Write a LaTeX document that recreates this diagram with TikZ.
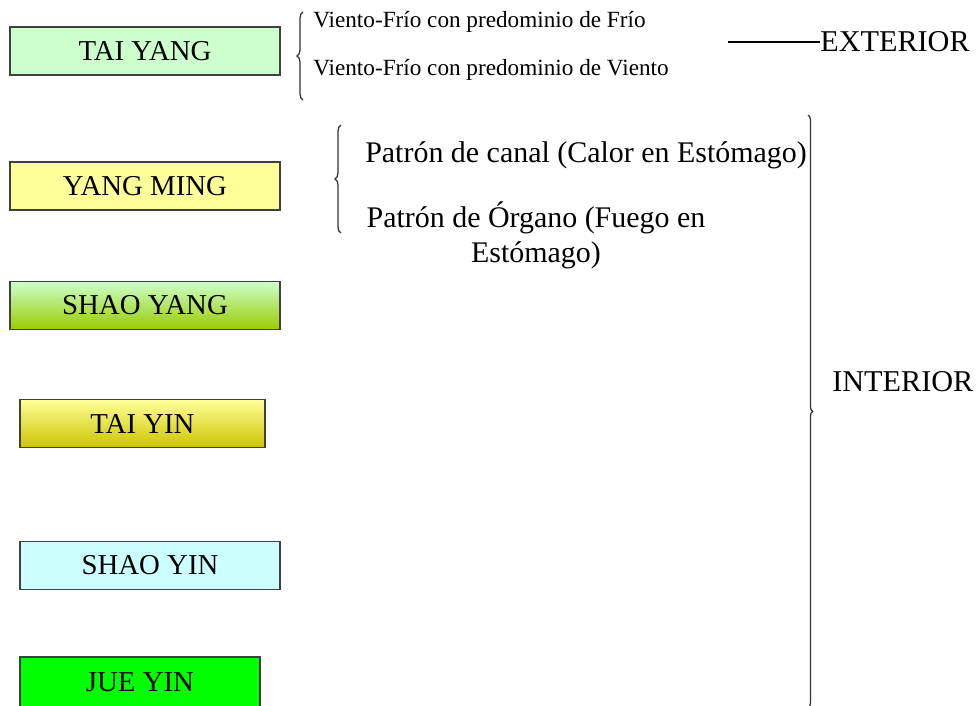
\documentclass[tikz,border=0pt]{standalone}
\usepackage{fontspec}
\setmainfont{Liberation Serif}
\usetikzlibrary{positioning, decorations.pathreplacing}
\definecolor{paleGreen}{RGB}{204,255,204}
\definecolor{paleYellow}{RGB}{255,255,153}
\definecolor{limeGreen}{RGB}{153,204,0}
\definecolor{darkGold}{RGB}{204,196,0}
\definecolor{paleCyan}{RGB}{204,255,255}
\definecolor{brightGreen}{RGB}{0,255,0}
\tikzset{
  lvl/.style={rectangle, draw=black!75, line width=0.9pt,
    minimum width=6.75cm, minimum height=1.2cm, inner sep=0pt,
    font=\fontsize{20.5}{24}\selectfont},
  lvlG/.style={lvl, fill=paleGreen},
  lvlY/.style={lvl, fill=paleYellow},
  lvlSY/.style={lvl, top color=paleGreen, bottom color=limeGreen},
  lvlTY/.style={lvl, top color=paleYellow, bottom color=darkGold,
    minimum width=6.125cm},
  lvlC/.style={lvl, fill=paleCyan, minimum width=6.5cm},
  lvlJ/.style={lvl, fill=brightGreen, minimum width=6cm,
    minimum height=1.25cm},
  note/.style={anchor=west, inner sep=0pt, font=\fontsize{16.5}{19}\selectfont},
  pat/.style={inner sep=0pt, font=\fontsize{21.3}{24.8}\selectfont},
  zone/.style={anchor=west, inner sep=0pt, font=\fontsize{21.5}{25}\selectfont},
  brc/.style={decorate, decoration={brace, amplitude=#1}, line width=0.9pt,
    draw=black!80},
}
\begin{document}
\begin{tikzpicture}
  \useasboundingbox (0,0) rectangle (24.4,-17.65);

  % the six levels
  \node[lvlG]  (taiyang)  at (3.625,-1.275)  {TAI YANG};
  \node[lvlY]  (yangming) at (3.625,-4.65)   {YANG MING};
  \node[lvlSY] (shaoyang) at (3.625,-7.6375) {SHAO YANG};
  \node[lvlTY] (taiyin)   at (3.5625,-10.5875) {TAI YIN};
  \node[lvlC]  (shaoyin)  at (3.75,-14.1375) {SHAO YIN};
  \node[lvlJ]  (jueyin)   at (3.5,-17.05)    {JUE YIN};

  % Tai Yang patterns
  \node[note] (frio)   at (7.825,-0.55) {Viento-Frío con predominio de Frío};
  \node[note] (viento) at (7.825,-1.75) {Viento-Frío con predominio de Viento};
  \draw[brc=0.15cm] (7.575,-2.5) -- (7.575,-0.3);

  % Yang Ming patterns
  \node[pat, anchor=west] (canal) at (9.125,-3.875)
       {Patrón de canal (Calor en Estómago)};
  \node[pat, align=center] (organo) at (13.4,-5.89)
       {Patrón de Órgano (Fuego en\\Estómago)};
  \draw[brc=0.15cm] (8.525,-5.825) -- (8.525,-3.125);

  % exterior / interior
  \node[zone] (ext) at (20.5,-1.05) {EXTERIOR};
  \coordinate (extL) at (18.2,-1.05);
  \draw[line width=0.9pt] (extL) -- (ext.west);

  \node[zone] (int) at (20.8,-9.55) {INTERIOR};
  \draw[brc=0.12cm] (20.2,-2.875) -- (20.2,-17.7);
\end{tikzpicture}
\end{document}
